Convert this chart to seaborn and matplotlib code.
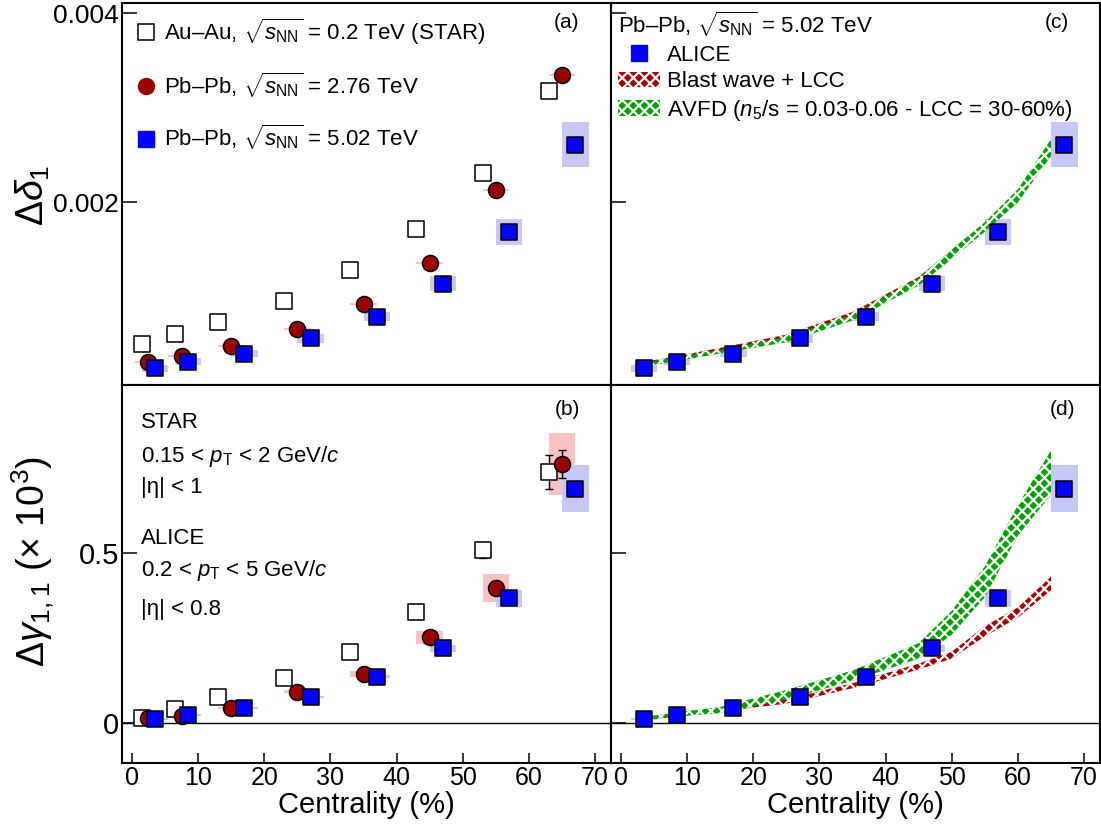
import matplotlib
matplotlib.use('Agg')
import matplotlib.pyplot as plt
from matplotlib.lines import Line2D
from matplotlib.patches import Patch
import numpy as np
import seaborn as sns

# centrality positions (%) as drawn, each data set shifted a little
cent_star = [1.5, 6.5, 13, 23, 33, 43, 53, 63]
cent_276 = [2.5, 7.5, 15, 25, 35, 45, 55, 65]
cent_502 = [3.5, 8.5, 17, 27, 37, 47, 57, 67]
box_width = 4

# Delta delta_1
dd_star = [0.000497, 0.000603, 0.000737, 0.000956, 0.00128, 0.00172, 0.00231, 0.00318]
dd_276 = [0.000314, 0.000374, 0.00048, 0.000656, 0.000924, 0.001355, 0.00213, 0.00335]
dd_276_sys = [0.00001, 0.00001, 0.00001, 0.00001, 0.00001, 0.00001, 0.00001, 0.00001]
dd_502 = [0.000243, 0.000314, 0.0004, 0.000561, 0.00079, 0.00114, 0.00169, 0.00261]
dd_502_sys = [0.00004, 0.00004, 0.00004, 0.00005, 0.00005, 0.00008, 0.000138, 0.000238]

# Delta gamma_{1,1} (x 10^3)
dg_star = [0.0146, 0.041, 0.076, 0.134, 0.21, 0.327, 0.508, 0.737]
dg_star_stat = [0.004, 0.005, 0.006, 0.008, 0.011, 0.015, 0.022, 0.05]
dg_276 = [0.0146, 0.022, 0.046, 0.093, 0.146, 0.252, 0.397, 0.76]
dg_276_stat = [0.003, 0.004, 0.005, 0.007, 0.009, 0.012, 0.02, 0.042]
dg_276_sys = [0.003, 0.003, 0.003, 0.004, 0.009, 0.02, 0.042, 0.091]
dg_502 = [0.0117, 0.024, 0.044, 0.078, 0.137, 0.22, 0.366, 0.688]
dg_502_sys = [0.003, 0.003, 0.003, 0.003, 0.004, 0.011, 0.026, 0.069]

# model bands (low / high edges)
model_cent = [2.5, 7.5, 15, 25, 35, 45, 50, 55, 60, 65]
bw_dd_lo = [0.00026, 0.00032, 0.00042, 0.00056, 0.00078, 0.00115, 0.00142, 0.0017, 0.00202, 0.00253]
bw_dd_hi = [0.0003, 0.00036, 0.00046, 0.0006, 0.00084, 0.00121, 0.0015, 0.00178, 0.00212, 0.00265]
avfd_dd_lo = [0.00025, 0.00031, 0.0004, 0.00052, 0.00075, 0.00112, 0.0014, 0.00169, 0.002, 0.00249]
avfd_dd_hi = [0.00029, 0.00035, 0.00044, 0.00058, 0.00081, 0.0012, 0.0015, 0.00179, 0.00214, 0.00267]
bw_dg_lo = [0.008, 0.018, 0.035, 0.058, 0.103, 0.158, 0.19, 0.255, 0.31, 0.39]
bw_dg_hi = [0.014, 0.026, 0.045, 0.07, 0.118, 0.175, 0.21, 0.285, 0.34, 0.43]
avfd_dg_lo = [0.008, 0.02, 0.03, 0.07, 0.125, 0.19, 0.26, 0.37, 0.55, 0.67]
avfd_dg_hi = [0.016, 0.03, 0.048, 0.098, 0.155, 0.235, 0.33, 0.46, 0.64, 0.8]

x_ticks = [0, 10, 20, 30, 40, 50, 60, 70]

sns.set_theme(style='ticks', rc={'text.color': 'black', 'axes.labelcolor': 'black',
                                 'axes.edgecolor': 'black', 'xtick.color': 'black',
                                 'ytick.color': 'black'})
plt.rcParams['font.family'] = ['Liberation Sans', 'DejaVu Sans']
plt.rcParams['mathtext.fontset'] = 'custom'
plt.rcParams['mathtext.rm'] = 'Liberation Sans'
plt.rcParams['mathtext.it'] = 'Liberation Sans:italic'
plt.rcParams['mathtext.bf'] = 'Liberation Sans:bold'
plt.rcParams['hatch.linewidth'] = 1.6

BLUE = '#0000ff'
RED = '#990000'
BLUE_SYS = '#c8c8f6'
RED_SYS = '#f7c3c3'
BW_COL = '#a00000'
AVFD_COL = '#00a000'
MS = 11.5

fig = plt.figure(figsize=(11.01, 8.4), dpi=100)
gs = fig.add_gridspec(2, 2, left=122 / 1101, right=1100 / 1101, top=1 - 3 / 840,
                      bottom=1 - 763 / 840, hspace=0, wspace=0, height_ratios=[382, 378])
axes = gs.subplots(sharex=True, sharey='row')


def sys_boxes(ax, x, y, sys, color):
    y = np.array(y)
    sys = np.array(sys)
    ax.bar(x, 2 * sys, bottom=y - sys, width=box_width, color=color, linewidth=0, zorder=1)


def points(ax, x, y, marker, face, size=MS ** 2):
    sns.scatterplot(x=x, y=y, marker=marker, s=size, color=face, edgecolor='black',
                    linewidth=1.1, ax=ax, zorder=5, legend=False)


def band(ax, lo, hi, color):
    ax.fill_between(model_cent, lo, hi, facecolor=color, edgecolor='white', hatch='xxx',
                    linewidth=0, zorder=2)


# (a)
ax = axes[0, 0]
sys_boxes(ax, cent_276, dd_276, dd_276_sys, RED_SYS)
sys_boxes(ax, cent_502, dd_502, dd_502_sys, BLUE_SYS)
points(ax, cent_star, dd_star, 's', 'white')
points(ax, cent_276, dd_276, 'o', RED)
points(ax, cent_502, dd_502, 's', BLUE)
handles = [Line2D([], [], ls='', marker='s', ms=MS, mfc='white', mec='black', mew=1.1),
           Line2D([], [], ls='', marker='o', ms=MS, mfc=RED, mec=RED),
           Line2D([], [], ls='', marker='s', ms=MS, mfc=BLUE, mec=BLUE)]
labels = [r'Au–Au, $\sqrt{s_{\rm NN}}$ = 0.2 TeV (STAR)',
          r'Pb–Pb, $\sqrt{s_{\rm NN}}$ = 2.76 TeV',
          r'Pb–Pb, $\sqrt{s_{\rm NN}}$ = 5.02 TeV']
ax.legend(handles, labels, loc='upper left', frameon=False, fontsize=16, labelspacing=1.05,
          handletextpad=0.3, handlelength=1.0, borderaxespad=0.2, borderpad=0.4)

# (b)
ax = axes[1, 0]
ax.axhline(0, color='black', lw=1.0, zorder=1)
sys_boxes(ax, cent_276, dg_276, dg_276_sys, RED_SYS)
sys_boxes(ax, cent_502, dg_502, dg_502_sys, BLUE_SYS)
ax.errorbar(cent_star, dg_star, yerr=dg_star_stat, fmt='none', ecolor='black', elinewidth=1.0,
            capsize=3, zorder=4)
ax.errorbar(cent_276, dg_276, yerr=dg_276_stat, fmt='none', ecolor='black', elinewidth=1.0,
            capsize=3, zorder=4)
points(ax, cent_star, dg_star, 's', 'white')
points(ax, cent_276, dg_276, 'o', RED)
points(ax, cent_502, dg_502, 's', BLUE)
kin_text = ['STAR', r'0.15 < $p_{\rm T}$ < 2 GeV/$c$', r'|η| < 1',
            'ALICE', r'0.2 < $p_{\rm T}$ < 5 GeV/$c$', r'|η| < 0.8']
kin_y = [0.9, 0.812, 0.728, 0.593, 0.508, 0.407]
for t, yy in zip(kin_text, kin_y):
    ax.text(0.039, yy, t, transform=ax.transAxes, fontsize=16, ha='left', va='center')

# (c)
ax = axes[0, 1]
band(ax, bw_dd_lo, bw_dd_hi, BW_COL)
band(ax, avfd_dd_lo, avfd_dd_hi, AVFD_COL)
sys_boxes(ax, cent_502, dd_502, dd_502_sys, BLUE_SYS)
points(ax, cent_502, dd_502, 's', BLUE)
handles = [Line2D([], [], ls='', marker='s', ms=MS, mfc=BLUE, mec=BLUE),
           Patch(facecolor=BW_COL, edgecolor='white', hatch='xxx', linewidth=0),
           Patch(facecolor=AVFD_COL, edgecolor='white', hatch='xxx', linewidth=0)]
labels = ['ALICE', 'Blast wave + LCC', r'AVFD ($n_{5}$/s = 0.03-0.06 - LCC = 30-60%)']
leg = ax.legend(handles, labels, loc='upper left', frameon=False, fontsize=16,
                title=r'Pb–Pb, $\sqrt{s_{\rm NN}}$ = 5.02 TeV', title_fontsize=16,
                alignment='left', labelspacing=0.25, handletextpad=0.3, handlelength=1.9,
                borderaxespad=0.0, borderpad=0.3)

# (d)
ax = axes[1, 1]
ax.axhline(0, color='black', lw=1.0, zorder=1)
band(ax, bw_dg_lo, bw_dg_hi, BW_COL)
band(ax, avfd_dg_lo, avfd_dg_hi, AVFD_COL)
sys_boxes(ax, cent_502, dg_502, dg_502_sys, BLUE_SYS)
points(ax, cent_502, dg_502, 's', BLUE)

# panel tags
for ax, tag, xx, yy in [(axes[0, 0], '(a)', 0.91, 0.948), (axes[1, 0], '(b)', 0.91, 0.934),
                        (axes[0, 1], '(c)', 0.912, 0.948), (axes[1, 1], '(d)', 0.924, 0.934)]:
    ax.text(xx, yy, tag, transform=ax.transAxes, fontsize=15, ha='center', va='center')

# axes cosmetics
for ax in axes.flat:
    ax.set_xlim(-1.5, 72.4)
    for sp in ax.spines.values():
        sp.set_visible(True)
        sp.set_linewidth(1.5)
        sp.set_color('black')
    ax.tick_params(axis='both', direction='in', width=1.1, top=False, right=False, pad=2,
                   colors='black')
    ax.tick_params(axis='y', length=11)
    ax.tick_params(axis='x', length=7)

axes[0, 0].set_ylim(0.000067, 0.00411)
axes[0, 0].set_yticks([0.002, 0.004], labels=['0.002', '0.004'], fontsize=19)
axes[1, 0].set_ylim(-0.116, 0.9915)
axes[1, 0].set_yticks([0, 0.5], labels=['0', '0.5'], fontsize=21)
for ax in axes[1]:
    ax.set_xticks(x_ticks, labels=[str(v) for v in x_ticks], fontsize=18)
    ax.set_xlabel('Centrality (%)', fontsize=21, labelpad=1, color='black')
for ax in axes[0]:
    ax.tick_params(axis='x', length=0)
for ax in axes[:, 1]:
    ax.tick_params(axis='y', labelleft=False)

fig.text(33 / 1101, 1 - 195 / 840, r'$\Delta\delta_{1}$', rotation=90, fontsize=27,
         ha='center', va='center', color='black')
fig.text(33 / 1101, 1 - 562 / 840, r'$\Delta\gamma_{1,1}$ (× 10$^{3}$)', rotation=90,
         fontsize=27, ha='center', va='center', color='black')

fig.savefig('out.png', dpi=100)
